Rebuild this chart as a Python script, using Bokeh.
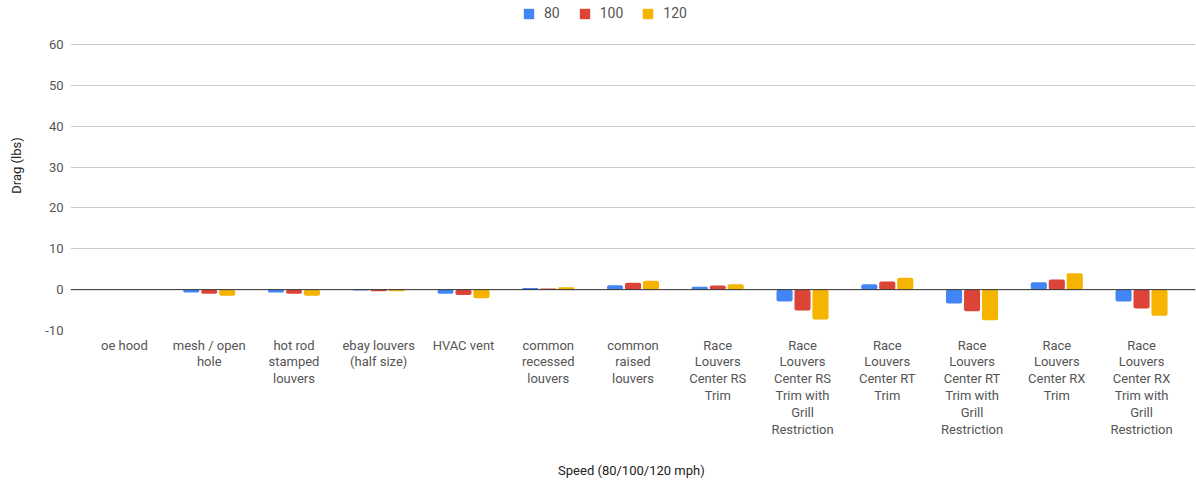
from bokeh.plotting import figure
from bokeh.models import ColumnDataSource, FactorRange, FixedTicker, Span, Legend, LegendItem
from bokeh.transform import dodge
from bokeh.embed import file_html
from bokeh.resources import INLINE

categories = [
    "oe hood",
    "mesh / open\nhole",
    "hot rod\nstamped\nlouvers",
    "ebay louvers\n(half size)",
    "HVAC vent",
    "common\nrecessed\nlouvers",
    "common\nraised\nlouvers",
    "Race\nLouvers\nCenter RS\nTrim",
    "Race\nLouvers\nCenter RS\nTrim with\nGrill\nRestriction",
    "Race\nLouvers\nCenter RT\nTrim",
    "Race\nLouvers\nCenter RT\nTrim with\nGrill\nRestriction",
    "Race\nLouvers\nCenter RX\nTrim",
    "Race\nLouvers\nCenter RX\nTrim with\nGrill\nRestriction",
]
s80 = [0.0, -0.7, -0.7, -0.2, -1.0, 0.4, 1.1, 0.7, -2.9, 1.3, -3.4, 1.8, -2.9]
s100 = [0.0, -1.0, -1.0, -0.4, -1.3, 0.3, 1.7, 1.0, -5.1, 2.0, -5.3, 2.5, -4.6]
s120 = [0.0, -1.5, -1.5, -0.4, -2.1, 0.6, 2.2, 1.3, -7.3, 2.9, -7.5, 4.0, -6.4]
series_names = ["80", "100", "120"]
colors = ["#4285F4", "#DB4437", "#F4B400"]
y_ticks = [-10, 0, 10, 20, 30, 40, 50, 60]

src = ColumnDataSource(dict(cat=categories, s80=s80, s100=s100, s120=s120))

FONT = "Roboto"
# frame extends 44px above the 60 line so the legend sits inside it
p = figure(frame_width=1125, frame_height=330, output_backend="svg", toolbar_location=None,
           x_range=FactorRange(*categories, range_padding=0.021),
           y_range=(-10, 60 + 44 * 70 / 286),
           min_border_left=70, min_border_right=1, min_border_top=0, min_border_bottom=0)
p.outline_line_color = None
p.background_fill_color = "white"
p.border_fill_color = "white"

renderers = []
for i, (col, name, c) in enumerate(zip(["s80", "s100", "s120"], series_names, colors)):
    r = p.vbar(x=dodge("cat", (i - 1) * 0.212, range=p.x_range), top=col, bottom=0,
               width=0.19, source=src, fill_color=c, line_color=None, border_radius=2)
    renderers.append((name, r))

p.add_layout(Span(location=0, dimension="width", line_color="#333333", line_width=1))

p.xgrid.grid_line_color = None
p.ygrid.grid_line_color = "#cccccc"
p.ygrid.ticker = FixedTicker(ticks=y_ticks)
p.yaxis.ticker = FixedTicker(ticks=y_ticks)
p.yaxis.major_label_overrides = {t: str(t) for t in y_ticks}

for ax in (p.xaxis[0], p.yaxis[0]):
    ax.axis_line_color = None
    ax.major_tick_line_color = None
    ax.minor_tick_line_color = None
    ax.major_tick_out = 0
    ax.major_tick_in = 0
    ax.minor_tick_out = 0
    ax.minor_tick_in = 0
    ax.major_label_text_font = FONT
    ax.major_label_text_font_size = "13px"
    ax.major_label_text_color = "#555555"
    ax.axis_label_text_font = FONT
    ax.axis_label_text_font_size = "13px"
    ax.axis_label_text_font_style = "normal"
    ax.axis_label_text_color = "#222222"

p.xaxis.major_label_standoff = 7
p.xaxis.major_label_text_line_height = 1.12
p.xaxis.axis_label = "Speed  (80/100/120 mph)"
p.xaxis.axis_label_standoff = 23
p.yaxis.major_label_standoff = 7
p.yaxis.axis_label = "Drag (lbs)"
p.yaxis.axis_label_standoff = 18

legend = Legend(items=[LegendItem(label=n, renderers=[r]) for n, r in renderers],
                orientation="horizontal", location=(452, 309),
                glyph_width=13, glyph_height=13, label_standoff=9, label_width=0,
                label_height=13, spacing=18, padding=0, margin=0,
                label_text_font=FONT, label_text_font_size="14px", label_text_color="#555555",
                border_line_color=None, background_fill_alpha=0)
p.add_layout(legend, "center")

open("out.html", "w").write(file_html(p, INLINE))
